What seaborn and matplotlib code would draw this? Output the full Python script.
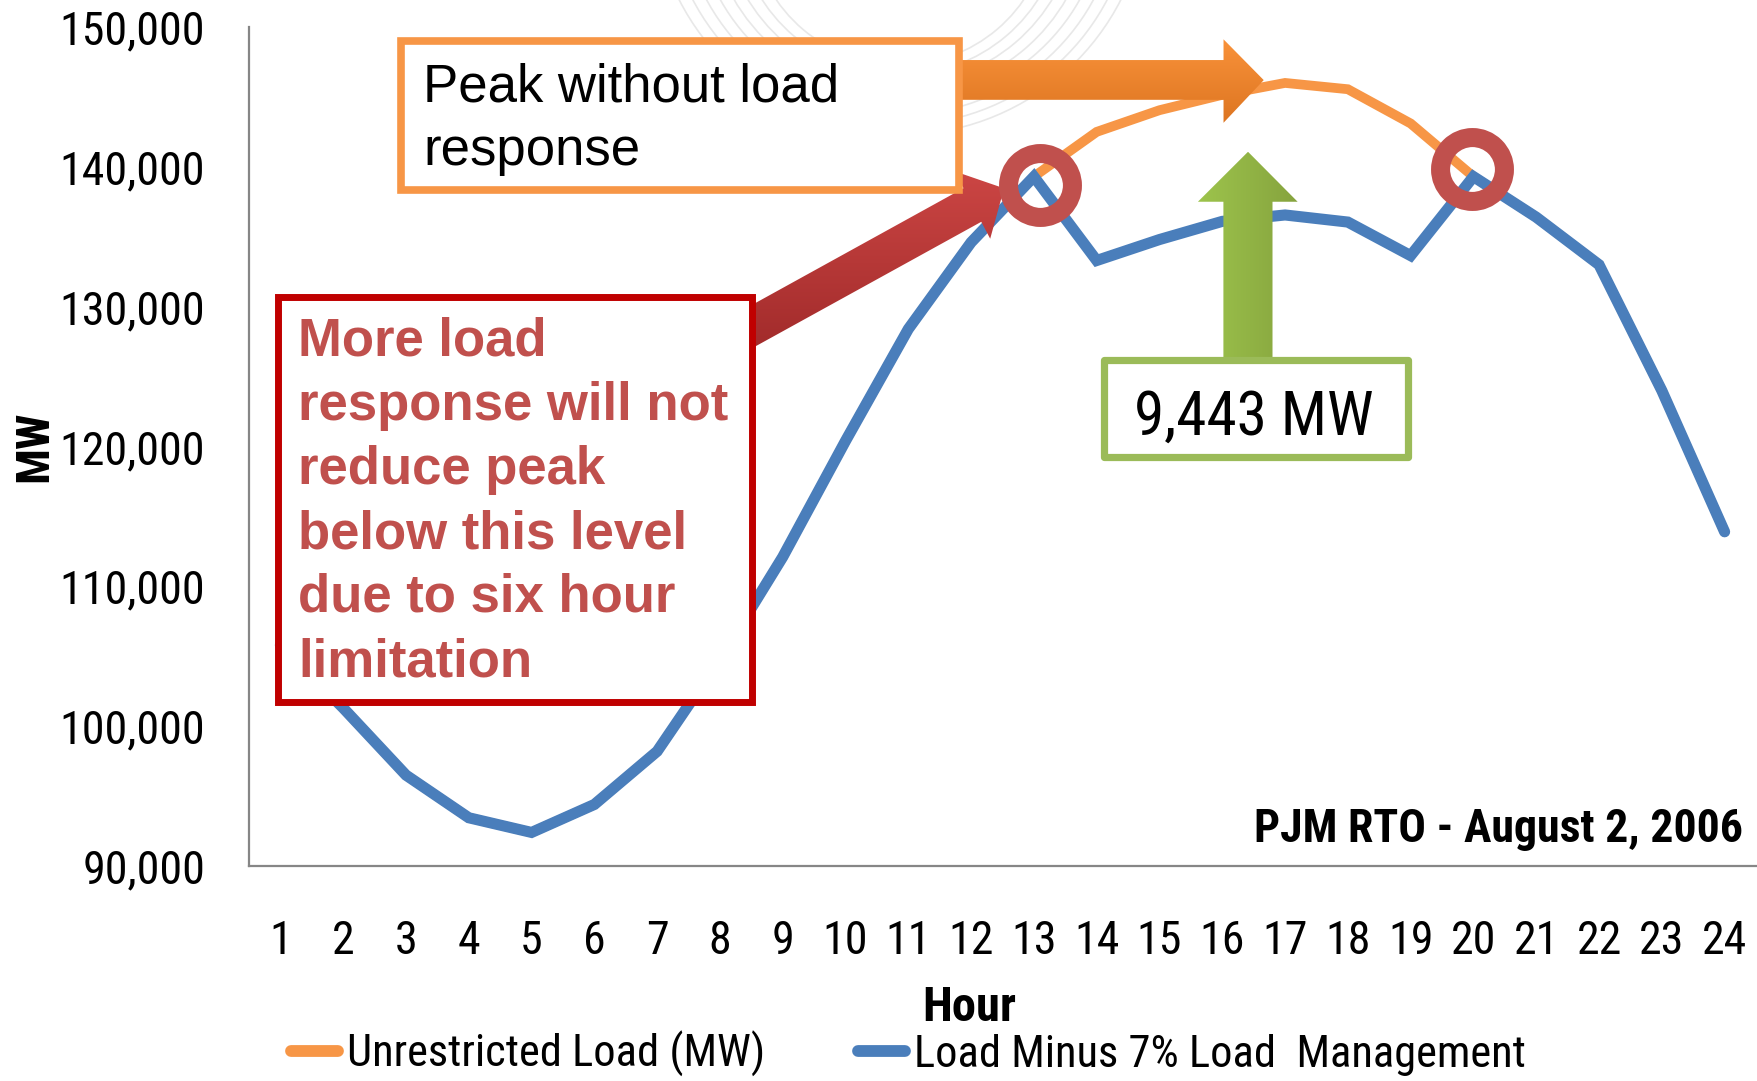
import os
import numpy as np
import pandas as pd
import matplotlib
matplotlib.use("Agg")
import matplotlib.pyplot as plt
import seaborn as sns
from matplotlib import font_manager
from matplotlib.font_manager import FontProperties
from matplotlib.patches import Polygon, Rectangle, Arc
from matplotlib.lines import Line2D
from matplotlib.colors import LinearSegmentedColormap
from matplotlib.ticker import FuncFormatter

# hourly load, PJM RTO, 2 Aug 2006
hours = list(range(1, 25))
unrestricted_mw = [105800, 101300, 96500, 93450, 92400, 94400, 98200, 104800,
                   112100, 120400, 128400, 134600, 139300, 142500, 144050, 145150,
                   146000, 145550, 143100, 139300, 136400, 133000, 124000, 113900]
managed_mw = [105800, 101300, 96500, 93450, 92400, 94400, 98200, 104800,
              112100, 120400, 128400, 134600, 139300, 133300, 134800, 136100,
              136557, 136050, 133650, 139300, 136400, 133000, 124000, 113900]
series_names = ["Unrestricted Load (MW)", "Load Minus 7% Load  Management"]
y_ticks = [90000, 100000, 110000, 120000, 130000, 140000, 150000]

ORANGE = "#F79646"
BLUE = "#4A7EBB"
GREY = "#868686"
RED_TXT = "#C0504D"

df = pd.DataFrame({
    "hour": hours * 2,
    "mw": unrestricted_mw + managed_mw,
    "series": [series_names[0]] * 24 + [series_names[1]] * 24,
})

sns.set_theme(style="white")
plt.rcParams["font.family"] = ["Liberation Sans", "DejaVu Sans"]


def font_file(names):
    paths = {os.path.basename(f.fname): f.fname for f in font_manager.fontManager.ttflist}
    for n in names:
        if n in paths:
            return paths[n]
    return None


narrow_reg = font_file(["RobotoCondensed-Regular.ttf", "PT_Sans-Narrow-Web-Regular.ttf",
                        "DejaVuSansCondensed.ttf"])
narrow_bold = font_file(["RobotoCondensed-Bold.ttf", "PT_Sans-Narrow-Web-Bold.ttf",
                         "DejaVuSansCondensed-Bold.ttf"])


def narrow(size, bold=False):
    path = narrow_bold if bold else narrow_reg
    if path is None:
        return FontProperties(family="DejaVu Sans", size=size,
                              weight="bold" if bold else "normal")
    return FontProperties(fname=path, size=size)


fig = plt.figure(figsize=(17.57, 10.81), dpi=100)
ax = fig.add_axes([249 / 1757, 215 / 1081, 1507 / 1757, 839 / 1081])
ax.set_facecolor("none")

# faint globe arcs in the background (top)
for k in range(8):
    r = 150 + k * 14
    arc = Arc((900 / 1757, (1081 + 85 + k * 4) / 1081), 2 * r / 1757, 2 * r / 1081,
              theta1=195, theta2=345, transform=fig.transFigure,
              color="#E8E8E8", lw=1.2, zorder=-5)
    fig.add_artist(arc)

sns.lineplot(data=df, x="hour", y="mw", hue="series", hue_order=series_names,
             palette=[ORANGE, BLUE], ax=ax, legend=False, linewidth=7.5)
ax.lines[0].set_linewidth(7.0)
ax.lines[1].set_linewidth(8.0)
for ln in ax.lines:
    ln.set_solid_joinstyle("miter")

ax.set_xlim(0.5, 24.5)
ax.set_ylim(90000, 150000)
ax.set_xticks(hours)
ax.set_xticklabels([str(h) for h in hours])
ax.set_xticks(np.arange(0.5, 25, 1), minor=True)
ax.set_yticks(y_ticks)
ax.yaxis.set_major_formatter(FuncFormatter(lambda v, p: f"{int(v):,}"))

for s in ["top", "right"]:
    ax.spines[s].set_visible(False)
for s in ["left", "bottom"]:
    ax.spines[s].set_color(GREY)
    ax.spines[s].set_linewidth(1.6)

ax.tick_params(axis="x", which="major", length=0, pad=38)
ax.tick_params(axis="x", which="minor", length=11, width=1.2, color=GREY, direction="out")
ax.tick_params(axis="y", length=9.5, width=1.4, color=GREY, direction="out", pad=22)
tick_fp = narrow(33)
for lab in ax.get_xticklabels() + ax.get_yticklabels():
    lab.set_fontproperties(tick_fp)
    lab.set_color("black")

ax.set_xlabel("Hour", fontproperties=narrow(35, bold=True), color="black")
ax.xaxis.set_label_coords((969 - 249) / 1507, -0.142)
ax.set_ylabel("MW", fontproperties=narrow(34, bold=True), color="black")
ax.yaxis.set_label_coords(-(249 - 34) / 1507, 0.5)
ax.yaxis.label.set_va("center")


def gradient_patch(verts, c_start, c_end, vertical=True, z=5):
    poly = Polygon(verts, closed=True, facecolor="none", edgecolor="none", zorder=z)
    ax.add_patch(poly)
    xs = [v[0] for v in verts]
    ys = [v[1] for v in verts]
    g = np.linspace(0, 1, 256)
    arr = g[:, None] if vertical else g[None, :]
    cmap = LinearSegmentedColormap.from_list("g", [c_start, c_end])
    im = ax.imshow(arr, cmap=cmap, extent=[min(xs), max(xs), min(ys), max(ys)],
                   origin="lower", aspect="auto", zorder=z, interpolation="bilinear")
    im.set_clip_path(poly)


# red arrow to the first circle
red_arrow = [(7.996, 128851), (11.879, 138472), (11.737, 139682), (12.525, 138464),
             (12.304, 134859), (12.162, 136069), (8.277, 126448)]
gradient_patch(red_arrow, "#A02A2A", "#CC4644", vertical=True, z=6)

# orange arrow from the box towards the peak
orange_arrow = [(11.79, 144793), (11.79, 147637), (16.02, 147637), (16.02, 149119),
                (16.66, 146203), (16.02, 143150), (16.02, 144793)]
gradient_patch(orange_arrow, "#DD7521", "#F9923A", vertical=True, z=6)

# green arrow up from the box
green_arrow = [(16.018, 124000), (16.018, 137503), (15.612, 137503), (16.41, 141076),
               (17.2, 137503), (16.80, 137503), (16.80, 124000)]
gradient_patch(green_arrow, "#9DC44C", "#86A33E", vertical=False, z=6)

ax.set_xlim(0.5, 24.5)
ax.set_ylim(90000, 150000)

# boxes
ax.add_patch(Rectangle((2.913, 138376), 11.81 - 2.913, 148975 - 138376,
                       facecolor="white", edgecolor=ORANGE, lw=5.5, zorder=7, clip_on=False))
ax.add_patch(Rectangle((0.964, 101694), 8.511 - 0.964, 130693 - 101694,
                       facecolor="white", edgecolor="#C00000", lw=5, zorder=7))
ax.add_patch(Rectangle((14.122, 119216), 18.961 - 14.122, 126167 - 119216,
                       facecolor="white", edgecolor="#9BBB59", lw=5.2, zorder=7,
                       joinstyle="round"))

ax.text(3.27, 144657, "Peak without load", fontsize=38, color="black", va="baseline", zorder=8)
ax.text(3.27, 140122, "response", fontsize=38, color="black", va="baseline", zorder=8)

red_lines = ["More load", "response will not", "reduce peak",
             "below this level", "due to six hour", "limitation"]
red_base = [126480, 121905, 117331, 112733, 108207, 103552]
for txt, yb in zip(red_lines, red_base):
    ax.text(1.285, yb, txt, fontsize=38, fontweight="bold", color=RED_TXT,
            va="baseline", zorder=8)

ax.text(16.5, 120850, "9,443 MW", fontproperties=narrow(44), color="black",
        ha="center", va="baseline", zorder=8)
ax.text(24.29, 91744, "PJM RTO - August 2, 2006", fontproperties=narrow(33, bold=True),
        color="black", ha="right", va="baseline", zorder=8)

# rings marking where the managed load touches the unrestricted curve
ax.plot([13.09, 19.98], [138697, 139842], ls="none", marker="o", ms=46, mfc="none",
        mec=RED_TXT, mew=13.7, zorder=9, clip_on=False)

handles = [Line2D([0], [0], color=ORANGE, lw=8.5, solid_capstyle="round"),
           Line2D([0], [0], color=BLUE, lw=8.5, solid_capstyle="round")]
leg = fig.legend(handles, series_names, loc="center left", bbox_to_anchor=(291 / 1757, 0.025),
                 ncol=2, frameon=False, handlelength=1.05, handletextpad=0.2,
                 columnspacing=2.1, borderpad=0, borderaxespad=0, prop=narrow(32))
for t in leg.get_texts():
    t.set_color("black")

fig.savefig("out.png", dpi=100)
